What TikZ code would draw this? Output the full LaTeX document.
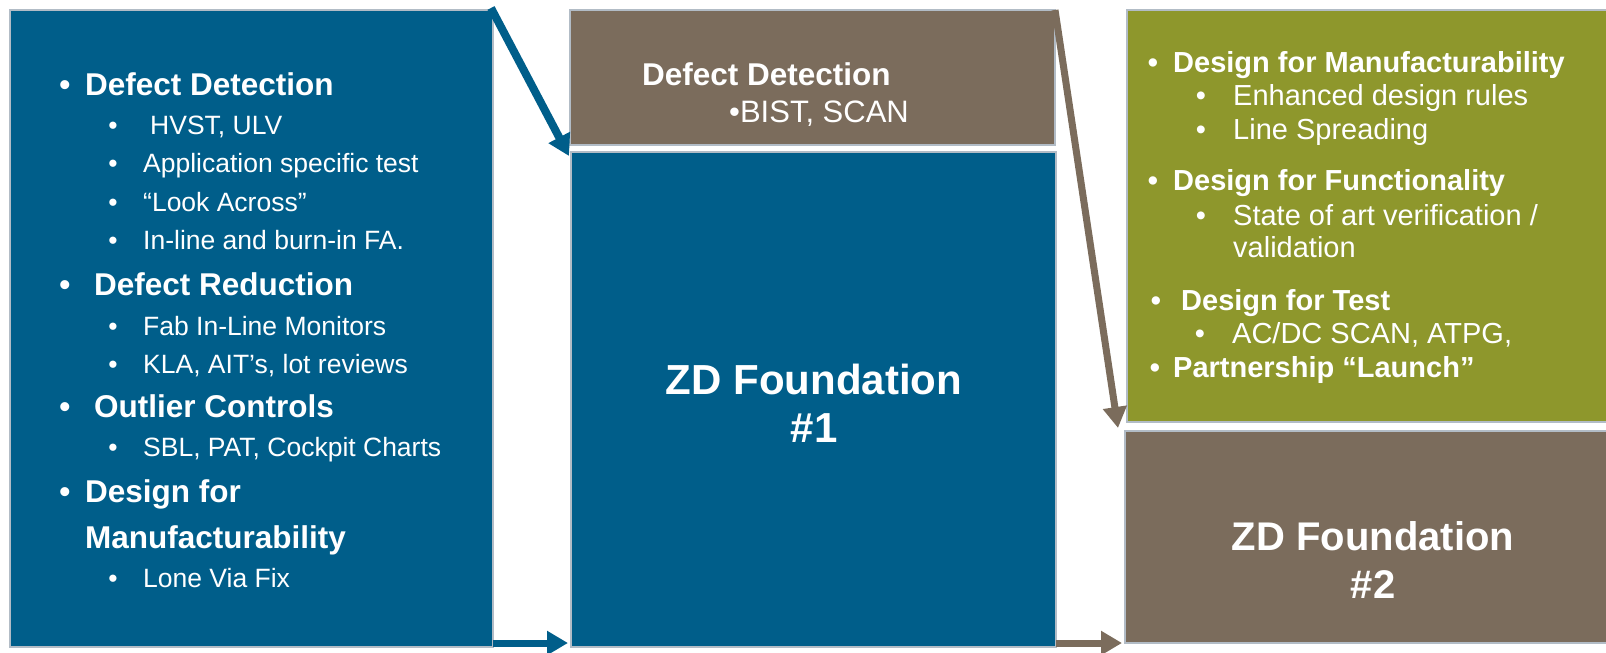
\documentclass[tikz,border=0pt]{standalone}
\usepackage{fontspec}
\setmainfont{Liberation Sans}
\usetikzlibrary{arrows.meta}
\definecolor{zdblue}{RGB}{0,94,138}
\definecolor{zdbrown}{RGB}{123,108,92}
\definecolor{zdgreen}{RGB}{142,151,44}
\definecolor{zdedge}{RGB}{178,188,198}
\begin{document}
\begin{tikzpicture}[x=1pt,y=-1pt,
  panel/.style={draw=zdedge, line width=2pt, inner sep=0pt, outer sep=0pt, anchor=north west},
  txt/.style={anchor=base west, inner sep=0pt, text=white},
  dot/.style={anchor=base, inner sep=0pt, text=white},
  hdL/.style={font=\fontsize{31.5}{36}\selectfont\bfseries},
  subL/.style={font=\fontsize{26.5}{30}\selectfont},
  hdR/.style={font=\fontsize{29}{33}\selectfont\bfseries},
  subR/.style={font=\fontsize{29}{33}\selectfont},
  title/.style={anchor=base, inner sep=0pt, text=white, font=\fontsize{42}{48}\selectfont\bfseries},
  flow/.style={line width=#1, -{Triangle[length=21pt,width=23pt]}},
]
\useasboundingbox (0,0) rectangle (1606,653);

% panels
\node[panel, fill=zdblue, minimum width=483pt, minimum height=637pt] (left) at (10,10) {};
\node[panel, fill=zdbrown, minimum width=485pt, minimum height=135pt] (midT) at (570,10) {};
\node[panel, fill=zdblue, minimum width=485pt, minimum height=495pt] (midB) at (571,152) {};
\node[panel, fill=zdgreen, minimum width=481pt, minimum height=412pt] (green) at (1127,10) {};
\node[panel, fill=zdbrown, minimum width=483pt, minimum height=212pt] (right) at (1125,431) {};

% connectors
\draw[zdblue, flow=8pt] ([xshift=-2pt,yshift=2pt]left.north east) -- ([xshift=-2pt,yshift=-4pt]midB.north west);
\draw[zdblue, flow=7pt] ([yshift=4pt]left.south east) -- ([xshift=-3pt,yshift=4pt]midB.south west);
\draw[zdbrown, flow=7pt] (midT.north east) -- ([xshift=-9pt,yshift=-6pt]green.south west);
\draw[zdbrown, flow=7pt] ([yshift=4pt]midB.south east) -- ([xshift=-3pt]right.south west);

% left panel list
\node[dot, hdL] (lb1) at (65,95) {•};
\node[txt, hdL] (lt1) at (85,95) {Defect Detection};
\node[dot, subL] (lb2) at (113,134) {•};
\node[txt, subL] (lt2) at (150,134) {HVST, ULV};
\node[dot, subL] (lb3) at (113,172.7) {•};
\node[txt, subL] (lt3) at (143,172.7) {Application specific test};
\node[dot, subL] (lb4) at (113,211.5) {•};
\node[txt, subL] (lt4) at (143,211.5) {“Look Across”};
\node[dot, subL] (lb5) at (113,249.5) {•};
\node[txt, subL] (lt5) at (143,249.5) {In-line and burn-in FA.};
\node[dot, hdL] (lb6) at (65,295) {•};
\node[txt, hdL] (lt6) at (94,295) {Defect Reduction};
\node[dot, subL] (lb7) at (113,335) {•};
\node[txt, subL] (lt7) at (143,335) {Fab In-Line Monitors};
\node[dot, subL] (lb8) at (113,373.5) {•};
\node[txt, subL] (lt8) at (143,373.5) {KLA, AIT’s, lot reviews};
\node[dot, hdL] (lb9) at (65,417.5) {•};
\node[txt, hdL] (lt9) at (94,417.5) {Outlier Controls};
\node[dot, subL] (lb10) at (113,456) {•};
\node[txt, subL] (lt10) at (143,456) {SBL, PAT, Cockpit Charts};
\node[dot, hdL] (lb11) at (65,502) {•};
\node[txt, hdL] (lt11) at (85,502) {Design for};
\node[txt, hdL] (lt12) at (85,548.5) {Manufacturability};
\node[dot, subL] (lb13) at (113,587.7) {•};
\node[txt, subL] (lt13) at (143,587.7) {Lone Via Fix};

% middle top panel
\node[txt, hdL] (mt1) at (642,85) {Defect Detection};
\node[txt, font=\fontsize{31}{35}\selectfont] (mt2) at (729,122.7) {•BIST, SCAN};

% middle title
\node[title] (mz1) at (814,394) {ZD Foundation};
\node[title] (mz2) at (814,442) {\#1};

% green panel list
\node[dot, hdR] (gb1) at (1153,72.5) {•};
\node[txt, hdR] (gt1) at (1173,72.5) {Design for Manufacturability};
\node[dot, subR] (gb2) at (1201,105) {•};
\node[txt, subR] (gt2) at (1233,105) {Enhanced design rules};
\node[dot, subR] (gb3) at (1201,139) {•};
\node[txt, subR] (gt3) at (1233,139) {Line Spreading};
\node[dot, hdR] (gb4) at (1153,190) {•};
\node[txt, hdR] (gt4) at (1173,190) {Design for Functionality};
\node[dot, subR] (gb5) at (1201,225.5) {•};
\node[txt, subR] (gt5) at (1233,225.5) {State of art verification /};
\node[txt, subR] (gt6) at (1233,257) {validation};
\node[dot, hdR] (gb7) at (1156,310) {•};
\node[txt, hdR] (gt7) at (1181,310) {Design for Test};
\node[dot, subR] (gb8) at (1200,343) {•};
\node[txt, subR] (gt8) at (1232,343) {AC/DC SCAN, ATPG,};
\node[dot, hdR] (gb9) at (1155,377) {•};
\node[txt, hdR] (gt9) at (1173,377) {Partnership “Launch”};

% right title
\node[title, font=\fontsize{40}{46}\selectfont\bfseries] (rz1) at (1373,550) {ZD Foundation};
\node[title, font=\fontsize{40}{46}\selectfont\bfseries] (rz2) at (1373,598) {\#2};
\end{tikzpicture}
\end{document}
